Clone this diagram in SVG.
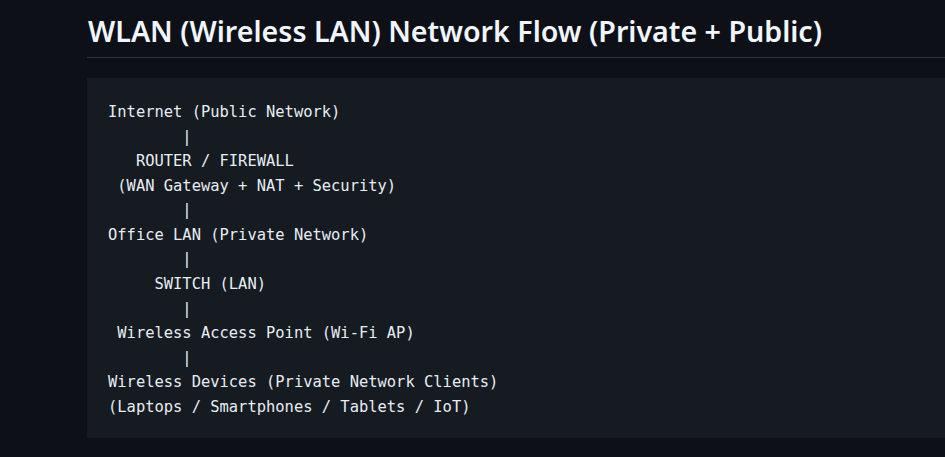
<svg xmlns="http://www.w3.org/2000/svg" width="945" height="457" viewBox="0 0 945 457">
<style>
.t{font-family:"Noto Sans","Open Sans","Liberation Sans",sans-serif;font-weight:600;font-size:28.6px;fill:#f0f6fc}
.c{font-family:"DejaVu Sans Mono","Liberation Mono",monospace;font-size:15.45px;fill:#e6edf3;white-space:pre}
</style>
<rect width="945" height="457" fill="#0d1117"/>
<g id="title">
<text class="t" x="88" y="42" textLength="734" lengthAdjust="spacingAndGlyphs">WLAN (Wireless LAN) Network Flow (Private + Public)</text>
<rect x="87" y="57" width="858" height="1" fill="#30363d"/>
</g>
<rect x="87" y="78" width="858" height="360" fill="#161b22"/>
<g id="internet"><text class="c" x="108" y="117" xml:space="preserve">Internet (Public Network)</text></g>
<g id="router">
<text class="c" x="108" y="166" xml:space="preserve">   ROUTER / FIREWALL</text>
<text class="c" x="108" y="191" xml:space="preserve"> (WAN Gateway + NAT + Security)</text>
</g>
<g id="office-lan"><text class="c" x="108" y="240" xml:space="preserve">Office LAN (Private Network)</text></g>
<g id="switch"><text class="c" x="108" y="289" xml:space="preserve">     SWITCH (LAN)</text></g>
<g id="ap"><text class="c" x="108" y="338" xml:space="preserve"> Wireless Access Point (Wi-Fi AP)</text></g>
<g id="devices">
<text class="c" x="108" y="387" xml:space="preserve">Wireless Devices (Private Network Clients)</text>
<text class="c" x="108" y="412" xml:space="preserve">(Laptops / Smartphones / Tablets / IoT)</text>
</g>
<g id="connectors">
<text class="c" x="108" y="142" xml:space="preserve">        |</text>
<text class="c" x="108" y="215" xml:space="preserve">        |</text>
<text class="c" x="108" y="264" xml:space="preserve">        |</text>
<text class="c" x="108" y="314" xml:space="preserve">        |</text>
<text class="c" x="108" y="363" xml:space="preserve">        |</text>
</g>
</svg>
